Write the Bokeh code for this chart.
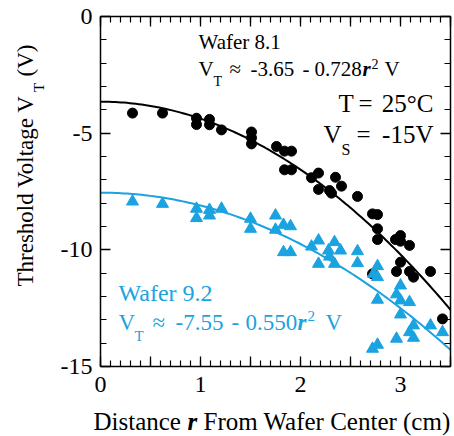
import math
import numpy as np
from bokeh.plotting import figure
from bokeh.models import Label, FixedTicker, LinearAxis, Range1d
from bokeh.embed import file_html
from bokeh.resources import INLINE

# ---------------- data ----------------
r_w81 = [0.32, 0.62, 0.96, 0.96, 1.09, 1.09, 1.21, 1.51, 1.51, 1.51, 1.76, 1.84, 1.91, 1.84, 1.91,
         2.11, 2.18, 2.18, 2.29, 2.31, 2.35, 2.41, 2.57, 2.72, 2.77, 2.77, 2.77, 2.95, 3.00, 3.00, 3.09,
         3.00, 2.96, 3.09, 3.13, 3.30, 2.72, 3.42]
vt_w81 = [-4.14, -4.14, -4.36, -4.63, -4.41, -4.64, -4.86, -4.95, -5.20, -5.46, -5.57, -5.77, -5.77, -6.57, -6.57,
          -6.91, -6.71, -7.41, -7.46, -7.57, -6.89, -7.27, -7.71, -8.46, -8.49, -9.10, -9.56, -9.56, -9.39, -9.63, -9.81,
          -10.53, -10.93, -10.93, -11.17, -10.93, -11.03, -12.96]

r_w92 = [0.32, 0.62, 0.96, 0.96, 1.09, 1.09, 1.21, 1.50, 1.50, 1.75, 1.75, 1.83, 1.90, 1.83, 1.90,
         2.11, 2.18, 2.18, 2.28, 2.29, 2.34, 2.34, 2.40, 2.57, 2.57, 2.77, 2.77, 2.73, 2.77, 3.00, 2.96,
         3.00, 3.09, 3.00, 3.13, 3.09, 3.13, 3.30, 3.42, 2.96, 2.77, 2.72]
vt_w92 = [-7.93, -8.03, -8.24, -8.64, -8.29, -8.53, -8.24, -8.67, -9.10, -8.53, -9.14, -8.93, -8.99, -10.10, -10.10,
          -9.86, -9.60, -10.60, -10.03, -10.29, -9.67, -10.60, -10.03, -10.06, -10.57, -10.70, -11.17, -11.03, -12.14, -11.53, -11.91,
          -12.17, -12.24, -12.77, -13.24, -13.53, -13.77, -13.24, -13.53, -13.81, -14.07, -14.24]

# fit coefficients from the chart's equations: VT = a + b*r^2
fit_w81 = [-3.65, -0.728]
fit_w92 = [-7.55, -0.550]

x_lim = [0.0, 3.5]
y_lim = [-15.0, 0.0]
x_ticks = [0.0, 0.5, 1.0, 1.5, 2.0, 2.5, 3.0, 3.5]
x_tick_labels = {0.0: "0", 0.5: "", 1.0: "1", 1.5: "", 2.0: "2", 2.5: "", 3.0: "3", 3.5: ""}
y_ticks = [-15.0, -10.0, -5.0, 0.0]
y_tick_labels = {-15.0: "-15", -10.0: "-10", -5.0: "-5", 0.0: "0"}

BLUE = "#1aa3e0"
FONT = "Liberation Serif"

# ---------------- figure ----------------
W, H = 454, 436
PXX = 100.0
PXY = 350.0 / 15.0
p = figure(width=W, height=H,
           x_range=Range1d(-100 / PXX, (W - 100) / PXX),
           y_range=Range1d(-(H - 16) / PXY, 16 / PXY),
           x_axis_location=None, y_axis_location=None,
           min_border=0, output_backend="svg", toolbar_location=None)
p.grid.visible = False
p.outline_line_color = None
p.background_fill_color = "white"
p.border_fill_color = "white"


def make_axis(side, fixed, horiz, labelled):
    ax = LinearAxis(fixed_location=fixed)
    if horiz:
        ax.ticker = FixedTicker(ticks=x_ticks, minor_ticks=[i / 10 for i in range(36)])
        ax.bounds = (x_lim[0], x_lim[1])
        ax.major_label_overrides = x_tick_labels if labelled else {t: "" for t in x_ticks}
    else:
        ax.ticker = FixedTicker(ticks=y_ticks, minor_ticks=[float(v) for v in range(-15, 1)])
        ax.bounds = (y_lim[0], y_lim[1])
        ax.major_label_overrides = y_tick_labels if labelled else {t: "" for t in y_ticks}
    ax.major_tick_in = 10
    ax.major_tick_out = 0
    ax.minor_tick_in = 6
    ax.minor_tick_out = 0
    ax.axis_line_width = 1.5
    ax.major_tick_line_width = 1.3
    ax.minor_tick_line_width = 1.2
    ax.axis_line_color = "black"
    ax.major_tick_line_color = "black"
    ax.minor_tick_line_color = "black"
    ax.major_label_text_font = FONT
    ax.major_label_text_color = "black"
    if labelled:
        ax.major_label_text_font_size = "24px"
        ax.major_label_standoff = 10 if horiz else 8
    else:
        ax.major_label_text_font_size = "0px"
        ax.major_label_standoff = 0
    p.add_layout(ax, side)
    return ax


make_axis("below", y_lim[0], True, True)
make_axis("above", y_lim[1], True, False)
make_axis("left", x_lim[0], False, True)
make_axis("right", x_lim[1], False, False)

# ---------------- fits ----------------
rr = np.linspace(x_lim[0], x_lim[1], 120)
p.line(rr, fit_w81[0] + fit_w81[1] * rr ** 2, line_color="black", line_width=2)
p.line(rr, fit_w92[0] + fit_w92[1] * rr ** 2, line_color=BLUE, line_width=2)

# ---------------- points ----------------
p.scatter(r_w81, vt_w81, marker="circle", size=10, fill_color="black", line_color="black")
p.scatter(r_w92, vt_w92, marker="triangle", size=12, fill_color=BLUE, line_color=BLUE)


# ---------------- texts ----------------
def dx(px):
    return (px - 100) / PXX


def dy(py):
    return -(py - 16) / PXY


BASE_FIX = 0.35  # the label's drawn baseline sits this many em below its anchor


def lab(text, xpx, ypx, size, color="black", style="normal", align="left", angle=0.0):
    if angle == 0.0:
        ypx = ypx - BASE_FIX * size
    else:
        xpx = xpx - BASE_FIX * size
    p.add_layout(Label(x=dx(xpx), y=dy(ypx), text=text, angle=angle,
                       text_font=FONT, text_font_size=f"{size}px", text_font_style=style,
                       text_color=color, text_baseline="alphabetic", text_align=align))


BI = "bold italic"

# Wafer 8.1 (black)
lab("Wafer 8.1", 198, 49, 21)
lab("V", 198, 76, 21)
lab("T", 213, 86, 14)
lab("\u2248", 229, 76, 21)
lab("-3.65", 250, 76, 21)
lab("-", 302, 76, 21)
lab("0.728", 314, 76, 21)
lab("r", 362, 76, 21, style=BI)
lab("2", 371, 68, 14)
lab("V", 384, 76, 21)

# conditions
lab("T", 338, 112, 25)
lab("=", 358, 112, 25)
lab("25\u00b0C", 433, 112, 25, align="right")
lab("V", 323, 143, 25)
lab("S", 341, 155, 16)
lab("=", 356, 143, 25)
lab("-15V", 433, 143, 25, align="right")

# Wafer 9.2 (blue)
lab("Wafer 9.2", 118, 301, 24, BLUE)
lab("V", 118, 330, 23, BLUE)
lab("T", 134, 341, 15, BLUE)
lab("\u2248", 152, 330, 23, BLUE)
lab("-7.55", 175, 330, 23, BLUE)
lab("-", 231, 330, 23, BLUE)
lab("0.550", 245, 330, 23, BLUE)
lab("r", 297, 330, 23, BLUE, style=BI)
lab("2", 307, 321, 15, BLUE)
lab("V", 325, 330, 23, BLUE)

# x-axis title
lab("Distance", 93, 430, 25)
lab("r", 187, 430, 25, style=BI)
lab("From Wafer Center (cm)", 203, 430, 25)

# y-axis title (rotated, reading upward)
ang = math.pi / 2
lab("Threshold Voltage V", 33, 286, 23, angle=ang)
lab("T", 44, 286 - 194.5, 15, angle=ang)
lab("(V)", 33, 286 - 194.5 - 9.5 - 6, 23, angle=ang)

open("out.html", "w").write(file_html(p, INLINE))
